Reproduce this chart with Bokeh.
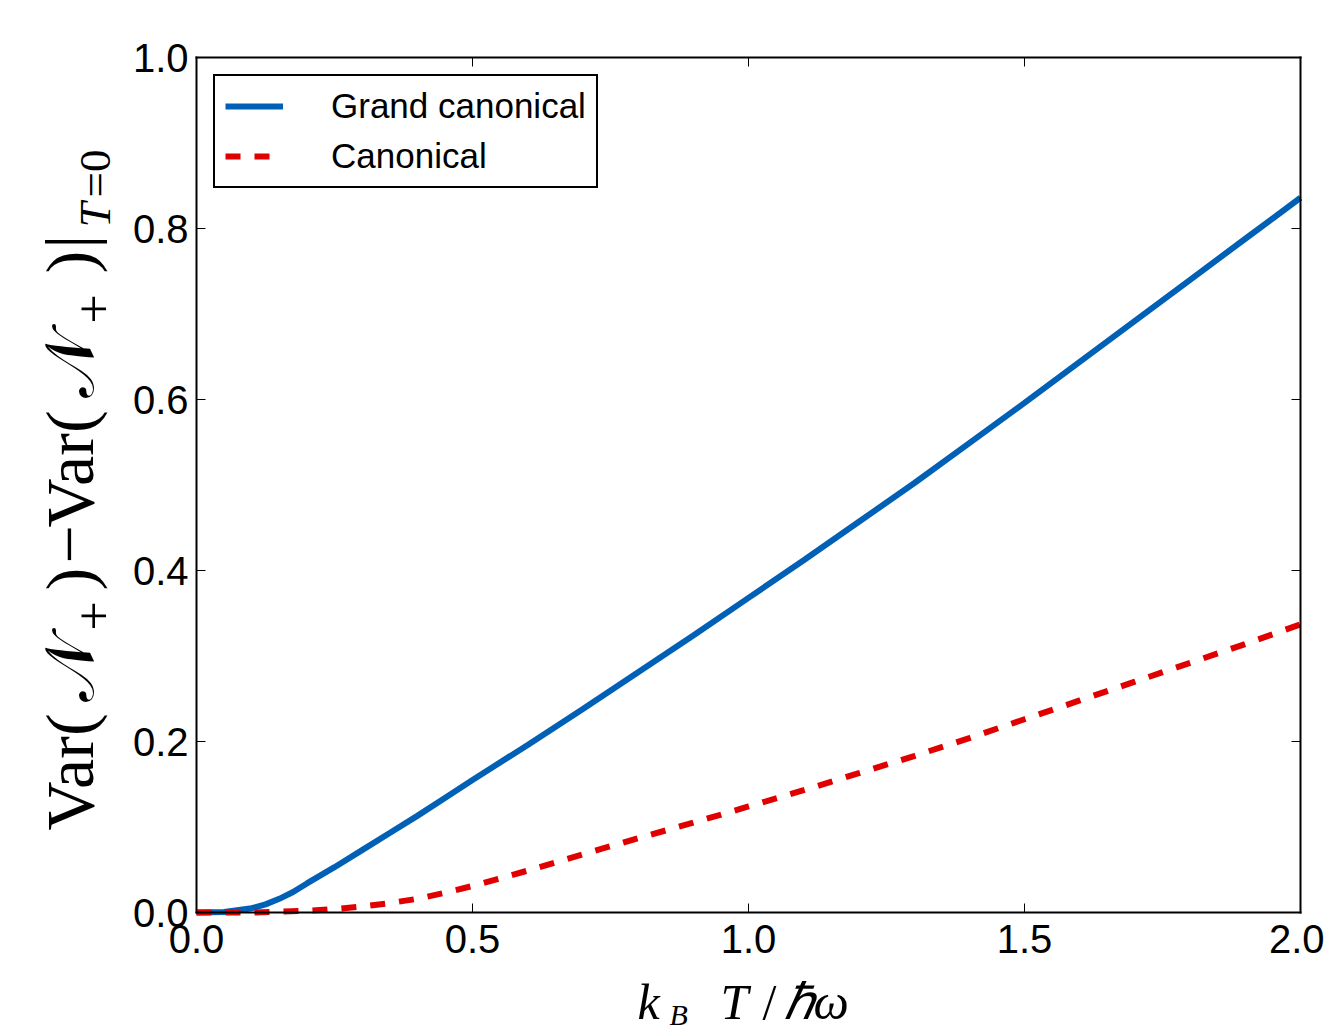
import numpy as np
from bokeh.plotting import figure
from bokeh.models import (Range1d, LinearAxis, FixedTicker, PrintfTickFormatter,
                          CustomJSTickFormatter, Legend, LegendItem, Label)
from bokeh.embed import file_html
from bokeh.resources import INLINE

# ---- data ----
T_grand = [0.0, 0.05, 0.1, 0.125, 0.15, 0.175, 0.2, 0.25, 0.3, 0.35, 0.4, 0.45, 0.5,
           0.6, 0.7, 0.8, 0.9, 1.0, 1.1, 1.2, 1.3, 1.4, 1.5, 1.6, 1.7, 1.8, 1.9, 2.0]
var_grand = [0.0, 0.0005, 0.005, 0.0095, 0.016, 0.024, 0.034, 0.053, 0.073, 0.093,
             0.113, 0.134, 0.155, 0.196, 0.238, 0.281, 0.324, 0.368, 0.412, 0.457,
             0.502, 0.549, 0.596, 0.644, 0.692, 0.740, 0.788, 0.836]
T_canon = [0.0, 0.1, 0.15, 0.2, 0.25, 0.3, 0.35, 0.4, 0.45, 0.5, 0.6, 0.7, 0.8, 0.9,
           1.0, 1.1, 1.2, 1.3, 1.4, 1.5, 1.6, 1.7, 1.8, 1.9, 2.0]
var_canon = [0.0, 0.0, 0.001, 0.002, 0.004, 0.007, 0.011, 0.016, 0.023, 0.031, 0.049,
             0.068, 0.087, 0.105, 0.124, 0.143, 0.163, 0.183, 0.204, 0.226, 0.248,
             0.270, 0.292, 0.314, 0.337]
series_names = ["Grand canonical", "Canonical"]
x_ticks = [0.0, 0.5, 1.0, 1.5, 2.0]
y_ticks = [0.0, 0.2, 0.4, 0.6, 0.8, 1.0]
x_lim = (0.0, 2.0)
y_lim = (0.0, 1.0)

BLUE = "#0060B6"
RED = "#E00000"

# page geometry of the visible axes box
W, H = 1324, 1034
BL, BT, BW, BH = 196, 57, 1104, 855
sxu = BW / (x_lim[1] - x_lim[0])   # px per x unit
syu = BH / (y_lim[1] - y_lim[0])   # px per y unit

def dx(px):
    return x_lim[0] + (px - BL) / sxu

def dy(py):
    return y_lim[0] + (BT + BH - py) / syu

# the frame covers the whole canvas; axes are drawn at fixed data locations
p = figure(frame_width=W, frame_height=H, min_border=0,
           x_range=Range1d(dx(0), dx(W)), y_range=Range1d(dy(H), dy(0)),
           output_backend="svg", toolbar_location=None, tools="",
           x_axis_type=None, y_axis_type=None)
p.background_fill_color = "white"
p.border_fill_color = "white"
p.outline_line_color = None
p.grid.visible = False

TICK_FONT = "Liberation Sans"

def make_axis(ticks, loc, bounds, labels=True):
    ax = LinearAxis(ticker=FixedTicker(ticks=ticks), fixed_location=loc, bounds=bounds)
    ax.axis_line_color = "black"
    ax.axis_line_width = 2
    ax.axis_line_cap = "square"
    ax.major_tick_in = 9
    ax.major_tick_out = 0
    ax.major_tick_line_color = "black"
    ax.major_tick_line_width = 1
    ax.minor_tick_line_color = None
    if labels:
        ax.formatter = PrintfTickFormatter(format="%.1f")
        ax.major_label_text_font = TICK_FONT
        ax.major_label_text_font_size = "40px"
        ax.major_label_text_color = "black"
    else:
        ax.formatter = CustomJSTickFormatter(code="return ''")
        ax.major_label_standoff = 0
    return ax

xb = make_axis(x_ticks, y_lim[0], x_lim); xb.major_label_standoff = 12
yl = make_axis(y_ticks, x_lim[0], y_lim); yl.major_label_standoff = 8
xt = make_axis(x_ticks, y_lim[1], x_lim, labels=False)
yr = make_axis(y_ticks, x_lim[1], y_lim, labels=False)
p.add_layout(xb, "below")
p.add_layout(yl, "left")
p.add_layout(xt, "above")
p.add_layout(yr, "right")

r1 = p.line(T_grand, var_grand, line_color=BLUE, line_width=6)
r2 = p.line(T_canon, var_canon, line_color=RED, line_width=6, line_dash="15 14")

LEG_H = 113
legend = Legend(items=[LegendItem(label=series_names[0], renderers=[r1]),
                       LegendItem(label=series_names[1], renderers=[r2])],
                location=(213, H - 75 - LEG_H), margin=0, padding=10, spacing=10,
                label_height=40, glyph_height=40, glyph_width=58, label_standoff=48,
                label_text_font=TICK_FONT, label_text_font_size="35px",
                label_text_color="black", label_text_baseline="middle",
                border_line_color="black", border_line_width=2, border_line_alpha=1,
                background_fill_color="white", background_fill_alpha=1)
p.add_layout(legend)

SERIF = "Liberation Serif"
K = 0.34  # distance from text middle to baseline, in em

def ylab(text, base_px, start_py, size, style="normal"):
    # rotated text reading upward: glyph tops point to the left
    p.add_layout(Label(x=dx(base_px - K * size), y=dy(start_py), text=text,
                       angle=np.pi / 2, text_align="left", text_baseline="middle",
                       text_font=SERIF, text_font_size=f"{size}px",
                       text_font_style=style, text_color="black"))

def xlab(text, start_px, base_py, size, style="italic"):
    p.add_layout(Label(x=dx(start_px), y=dy(base_py - K * size), text=text,
                       angle=0.0, text_align="left", text_baseline="middle",
                       text_font=SERIF, text_font_size=f"{size}px",
                       text_font_style=style, text_color="black"))

# ---- y axis label: Var(N+) - Var(N+)|_{T=0} ----
ylab("Var(", 93, 830, 68)
ylab("\U0001D4A9", 93, 701, 68)
ylab("+", 111, 630, 52)
ylab(")", 93, 590, 68)
ylab("\u2212", 93, 563, 68)
ylab("Var(", 93, 527, 68)
ylab("\U0001D4A9", 93, 397, 68)
ylab("+", 111, 323, 52)
ylab(")", 93, 273, 68)
ylab("|", 93, 248, 68)
ylab("T", 110, 227, 45, "italic")
ylab("=0", 110, 197, 45)

# ---- x axis label: k_B T / hbar omega ----
xlab("k", 637, 1018, 50)
xlab("B", 669, 1024, 30)
xlab("T", 720, 1018, 50)
xlab("/", 762, 1018, 50, "normal")
xlab("\u210F", 783, 1018, 50)
xlab("\u03C9", 813, 1018, 50)

open("out.html", "w").write(file_html(p, INLINE))
